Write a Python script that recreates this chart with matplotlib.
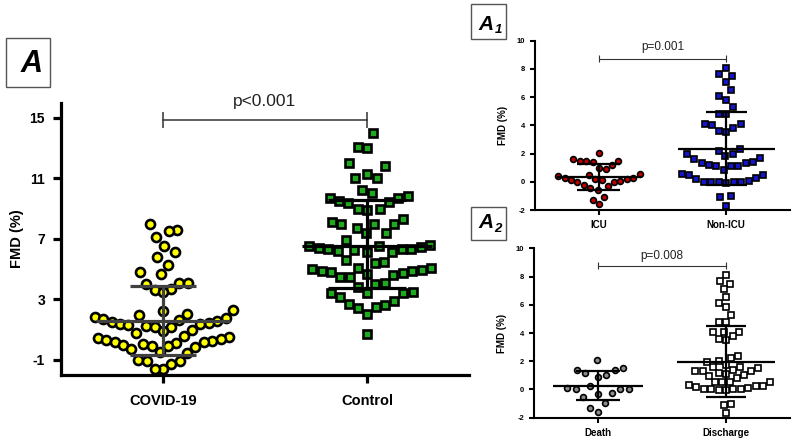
"""FMD (%) dot plots: COVID-19 vs control, plus ICU and outcome subgroups."""
import matplotlib
import numpy as np

matplotlib.use("Agg")
import matplotlib.pyplot as plt  # noqa: E402
from matplotlib.patches import Rectangle  # noqa: E402

plt.rcParams["font.family"] = ["Liberation Sans", "DejaVu Sans"]
plt.rcParams["axes.unicode_minus"] = False

W, H, DPI = 797, 444, 100

# ---- values ----
groups_main = ["COVID-19", "Control"]
covid = [8.0, 7.6, 7.5, 7.1, 6.5, 6.1, 5.8, 5.3, 4.8, 4.7, 4.1, 4.1, 4.0,
         3.7, 3.6, 3.5, 2.3, 2.2,
         2.05, 1.95, 1.85, 1.8, 1.7, 1.65, 1.6, 1.5, 1.45, 1.4, 1.35, 1.3,
         1.25, 1.2, 1.15,
         1.0, 0.9, 0.75, 0.6, 0.5, 0.45, 0.4, 0.3, 0.25, 0.2, 0.15, 0.1,
         0.05, 0.0, -0.05, -0.1, -0.15,
         -0.3, -0.45, -0.55, -1.0, -1.05, -1.1, -1.25, -1.6, -1.6]
control = [14.0, 13.1, 13.0, 12.0, 11.8, 11.3, 11.0, 11.0, 10.2, 10.0,
           9.8, 9.7, 9.7, 9.5, 9.45, 9.35, 9.0, 9.0, 8.9,
           8.3, 8.1, 8.0, 8.0, 8.0, 7.7, 7.4, 7.4, 6.95,
           6.6, 6.55, 6.5, 6.45, 6.4, 6.35, 6.35, 6.3, 6.25, 6.2, 6.15, 6.15,
           5.6, 5.5, 5.4,
           5.1, 5.05, 5.0, 4.95, 4.9, 4.85, 4.8, 4.75, 4.7, 4.6, 4.5, 4.45,
           4.05, 4.0, 3.8, 3.5, 3.45, 3.4, 3.4, 3.15,
           2.9, 2.7, 2.6, 2.5, 2.4, 2.0, 0.7]
p_main = "p<0.001"

groups_a1 = ["ICU", "Non-ICU"]
icu = [2.05, 1.6, 1.5, 1.45, 1.45, 1.4, 1.2, 1.0, 0.9, 0.55, 0.45, 0.4,
       0.3, 0.25, 0.2, 0.2, 0.15, 0.1, 0.05, 0.0, 0.0, -0.2, -0.3, -0.45,
       -0.6, -1.05, -1.3, -1.6]
non_icu = [8.1, 7.65, 7.5, 7.1, 6.5, 6.1, 5.8, 5.3, 4.8, 4.8, 4.1, 4.1,
           4.05, 3.8, 3.6, 3.5, 2.35, 2.2, 2.0, 1.95, 1.8, 1.7, 1.6, 1.4,
           1.35, 1.3, 1.2, 1.15, 1.1, 1.1, 0.8, 0.55, 0.45, 0.45, 0.25, 0.2,
           0.05, 0.0, 0.0, 0.0, -0.05, -0.05, -0.1, -1.0, -1.1, -1.7]
p_a1 = "p=0.001"

groups_a2 = ["Death", "Discharge"]
death = [2.1, 1.55, 1.4, 1.35, 1.2, 1.05, 0.9, 0.25, 0.1, 0.05, 0.0, 0.0,
         -0.25, -0.35, -0.55, -0.95, -1.3, -1.6]
discharge = [8.1, 7.7, 7.5, 7.15, 6.55, 6.15, 5.85, 5.3, 4.8, 4.8, 4.1,
             4.05, 4.05, 3.8, 3.6, 3.5, 2.35, 2.2, 2.0, 1.95, 1.75, 1.6, 1.6,
             1.5, 1.4, 1.3, 1.3, 1.3, 1.2, 1.1, 1.05, 0.95, 0.8, 0.55, 0.55,
             0.5, 0.5, 0.35, 0.25, 0.25, 0.15, 0.1, 0.05, 0.0, 0.0, 0.0,
             -0.05, -0.05, -1.0, -1.1, -1.7]
p_a2 = "p=0.008"

# mean and SD bars as drawn: (mean, mean - SD, mean + SD)
covid_bar = (1.6, -0.65, 3.9)
control_bar = (6.5, 3.75, 9.6)
icu_bar = (0.35, -0.6, 1.25)
non_icu_bar = (2.33, -0.22, 4.93)
death_bar = (0.25, -0.75, 1.33)
discharge_bar = (1.98, -0.5, 4.5)


def swarm_x(ax, xc, values, d, k):
    """Beeswarm x positions (data units).

    d = min spacing in pixels, k < 1 squeezes vertical distance so points
    spread sideways into rows like the Prism scatter layout.
    """
    vals = np.asarray(values, float)
    pts = ax.transData.transform(np.column_stack([np.full(len(vals), xc), vals]))
    ypx = pts[:, 1] * k
    off = np.zeros(len(vals))
    px, py = [], []
    for i in np.argsort(ypx, kind="stable"):
        y = ypx[i]
        ax_ = np.array(px)
        ay_ = np.array(py)
        cands = [0.0]
        for xx, yy in zip(ax_, ay_):
            if abs(yy - y) < d:
                dx = np.sqrt(d * d - (yy - y) ** 2)
                cands += [xx - dx, xx + dx]
        cands.sort(key=abs)
        for c in cands:
            if len(ax_) == 0 or not np.any((ax_ - c) ** 2 + (ay_ - y) ** 2 < d * d - 1e-6):
                break
        off[i] = c
        px.append(c)
        py.append(y)
    back = ax.transData.inverted().transform(np.column_stack([pts[:, 0] + off, pts[:, 1]]))
    return back[:, 0]


def mean_sd(ax, xc, bar, half_mean, half_cap, color, lw):
    m, lo, hi = bar
    ax.hlines(m, xc - half_mean, xc + half_mean, color=color, lw=lw, zorder=5)
    ax.vlines(xc, lo, hi, color=color, lw=lw, zorder=5)
    ax.hlines([lo, hi], xc - half_cap, xc + half_cap, color=color, lw=lw, zorder=5)


def bracket(ax, y, text, size, text_y, tick_h, lw):
    ax.plot([0, 1], [y, y], color="#333333", lw=lw, clip_on=False)
    ax.vlines([0, 1], y - tick_h, y + tick_h, color="#333333", lw=lw, clip_on=False)
    ax.text(0.5, text_y, text, ha="center", va="center", fontsize=size,
            color="#222222", clip_on=False)


def style_axes(ax, spine_lw, tick_len, tick_size):
    for s in ("top", "right"):
        ax.spines[s].set_visible(False)
    for s in ("left", "bottom"):
        ax.spines[s].set_linewidth(spine_lw)
    ax.tick_params(width=spine_lw, length=tick_len, labelsize=tick_size, direction="out")
    for lab in ax.get_xticklabels() + ax.get_yticklabels():
        lab.set_fontweight("bold")


def px_axes(fig, x0, y0, x1, y1):
    return fig.add_axes([x0 / W, 1 - y1 / H, (x1 - x0) / W, (y1 - y0) / H])


def panel_box(fig, x0, y0, x1, y1):
    fig.add_artist(Rectangle((x0 / W, 1 - y1 / H), (x1 - x0) / W, (y1 - y0) / H,
                             transform=fig.transFigure, fill=False,
                             ec="#555555", lw=1.0))


fig = plt.figure(figsize=(W / DPI, H / DPI), dpi=DPI)

# ---- main panel A ----
ax = px_axes(fig, 61, 102.7, 469, 375)
ax.set_xlim(-0.5, 1.5)
ax.set_ylim(-2, 16)
ax.set_yticks([-1, 3, 7, 11, 15])
ax.set_xticks([0, 1], groups_main)
x_cov = swarm_x(ax, 0, covid, 8.5, 0.45)
x_con = swarm_x(ax, 1, control, 9.5, 0.5)
ax.plot(x_cov, covid, "o", ms=6.5, mfc="#FFFF00", mec="black", mew=1.9, zorder=3)
ax.plot(x_con, control, "s", ms=6.3, mfc="#1DAA1D", mec="black", mew=1.9, zorder=3)
mean_sd(ax, 0, covid_bar, 0.33, 0.16, "#404040", 2.3)
mean_sd(ax, 1, control_bar, 0.32, 0.19, "black", 2.3)
bracket(ax, 14.86, p_main, 12.5, 16.1, 0.5, 1.1)
style_axes(ax, 2.3, 5.5, 10)
ax.tick_params(axis="x", labelsize=10.5, pad=8)
ax.tick_params(axis="y", pad=6)
ax.set_ylabel("FMD (%)", fontsize=10.5, fontweight="bold", labelpad=4)
panel_box(fig, 6, 38, 50, 87)
fig.text(32 / W, 1 - 64 / H, "A", fontsize=22, fontweight="bold",
         fontstyle="italic", ha="center", va="center")

# ---- panel A1 ----
a1 = px_axes(fig, 535, 40.7, 790, 210)
a1.set_xlim(-0.5, 1.5)
a1.set_ylim(-2, 10)
a1.set_yticks(range(-2, 11, 2))
a1.set_xticks([0, 1], groups_a1)
a1.plot(swarm_x(a1, 0, icu, 6.5, 0.5), icu, "o", ms=4.2, mfc="#C00000",
        mec="black", mew=1.2, zorder=3)
a1.plot(swarm_x(a1, 1, non_icu, 7.5, 0.55), non_icu, "s", ms=4.4, mfc="#1414C8",
        mec="black", mew=1.2, zorder=3)
mean_sd(a1, 0, icu_bar, 0.33, 0.17, "black", 1.6)
mean_sd(a1, 1, non_icu_bar, 0.38, 0.16, "black", 1.6)
bracket(a1, 8.73, p_a1, 8.5, 9.55, 0.25, 0.8)
style_axes(a1, 1.5, 3.5, 5.5)
a1.tick_params(axis="x", labelsize=7, pad=4)
a1.set_ylabel("FMD (%)", fontsize=7, fontweight="bold", labelpad=6)
panel_box(fig, 471, 4, 506, 39)
fig.text(486 / W, 1 - 24 / H, "A", fontsize=15, fontweight="bold",
         fontstyle="italic", ha="center", va="center")
fig.text(498 / W, 1 - 30 / H, "1", fontsize=9.5, fontweight="bold",
         fontstyle="italic", ha="center", va="center")

# ---- panel A2 ----
a2 = px_axes(fig, 534, 248.3, 790, 417.7)
a2.set_xlim(-0.5, 1.5)
a2.set_ylim(-2, 10)
a2.set_yticks(range(-2, 11, 2))
a2.set_xticks([0, 1], groups_a2)
a2.plot(swarm_x(a2, 0, death, 8.5, 0.5), death, "o", ms=4.2, mfc="#8C8C8C",
        mec="black", mew=1.2, zorder=3)
a2.plot(swarm_x(a2, 1, discharge, 7.5, 0.85), discharge, "s", ms=4.4, mfc="white",
        mec="black", mew=1.2, zorder=3)
mean_sd(a2, 0, death_bar, 0.35, 0.17, "black", 1.6)
mean_sd(a2, 1, discharge_bar, 0.38, 0.16, "black", 1.6)
bracket(a2, 8.75, p_a2, 8.5, 9.45, 0.25, 0.8)
style_axes(a2, 1.5, 3.5, 5.5)
a2.tick_params(axis="x", labelsize=7, pad=4)
a2.set_ylabel("FMD (%)", fontsize=7, fontweight="bold", labelpad=6)
panel_box(fig, 471, 207, 506, 240)
fig.text(486 / W, 1 - 222 / H, "A", fontsize=15, fontweight="bold",
         fontstyle="italic", ha="center", va="center")
fig.text(498 / W, 1 - 229 / H, "2", fontsize=9.5, fontweight="bold",
         fontstyle="italic", ha="center", va="center")

fig.savefig("out.png", dpi=DPI)
